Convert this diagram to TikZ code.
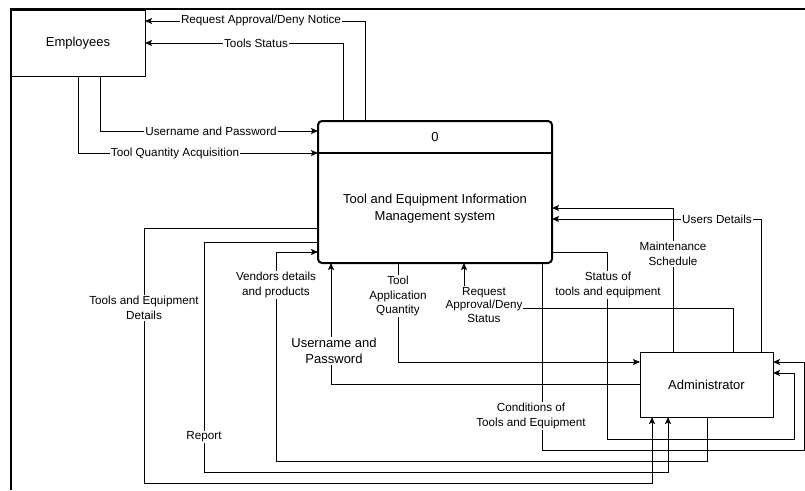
\documentclass[tikz,border=0pt]{standalone}
\usepackage{fontspec}
\setmainfont{Liberation Sans}
\usetikzlibrary{arrows.meta}

\tikzset{
  entity/.style={draw, line width=1pt, inner sep=0pt, outer sep=0pt,
    minimum width=134pt, minimum height=66pt, font=\fontsize{13}{15}\selectfont},
  process/.style={draw, line width=2pt, rounded corners=4pt, inner sep=0pt, outer sep=0pt,
    minimum width=234pt, minimum height=142pt},
  title/.style={align=center, inner sep=0pt, font=\fontsize{13}{17}\selectfont},
  flow/.style={draw, line width=1pt, -{Stealth[length=7pt,width=6pt,inset=1.5pt]}},
  lbl/.style={fill=white, inner sep=1pt, align=center, font=\fontsize{11.7}{15}\selectfont},
}

\begin{document}
\begin{tikzpicture}[x=1pt, y=-1pt]

    \useasboundingbox (0,0) rectangle (805,490);

    %% Context diagram

    % Page frame
    \draw[line width=1.2pt] (805,9) -- (11,9) -- (11,490);

    % Employees
    \node[entity] (emp) at (78,43) {Employees};

    % Process 0
    \node[process] (proc) at (435,192) {};
    \draw[line width=1.5pt] (proc.west |- 0,153) -- (proc.east |- 0,153);
    \node[title] (procid) at (435,137) {0};
    \node[title] (procname) at (435,208.5) {Tool and Equipment Information\\Management system};

    % Administrator
    \node[entity, minimum width=133pt, minimum height=65pt] (adm) at (706.5,384.5) {Administrator};

    % Flows between process and employees
    \draw[flow] (proc.north -| 365,0) |- (emp.east |- 0,21);
    \node[lbl] (notice) at (261,20) {Request Approval/Deny Notice};
    \draw[flow] (proc.north -| 343,0) |- (emp.east |- 0,43);
    \node[lbl] (status) at (256,43) {Tools Status};
    \draw[flow] (emp.south -| 100,0) |- (proc.west |- 0,131);
    \node[lbl] (emplogin) at (211,131) {Username and Password};
    \draw[flow] (emp.south -| 78,0) |- (proc.west |- 0,153);
    \node[lbl] (acq) at (175,153) {Tool Quantity Acquisition};

    % Flows on the left, to and from administrator
    \draw[flow] (proc.west |- 0,228) -| (144,483) -| (adm.south -| 652,0);
    \node[lbl] (details) at (144,308) {Tools and Equipment\\Details};
    \draw[flow] (proc.west |- 0,242) -| (204,472) -| (adm.south -| 668,0);
    \node[lbl] (report) at (204,437) {Report};
    \draw[flow] (adm.south -| 707,0) |- (276,461) |- (proc.west |- 0,252);
    \node[lbl] (vendors) at (276,285) {Vendors details\\and products};
    \draw[flow] (adm.west |- 0,384) -| (proc.south -| 331,0);
    \node[lbl, font=\fontsize{13}{16}\selectfont] (admlogin) at (334,351) {Username and\\Password};

    % Flows below the process
    \draw[flow] (proc.south -| 398,0) |- (adm.west |- 0,362);
    \node[lbl, font=\fontsize{11.7}{14.5}\selectfont] (appqty) at (398,296) {Tool\\Application\\Quantity};
    \draw[flow] (adm.north -| 733,0) |- (464,308) -- (proc.south -| 464,0);
    \node[lbl, font=\fontsize{11.7}{13.5}\selectfont] (reqstatus) at (484,305) {Request\\Approval/Deny\\Status};

    % Flows on the right
    \draw[flow] (adm.north -| 761,0) |- (proc.east |- 0,219);
    \node[lbl] (users) at (717,219) {Users Details};
    \draw[flow] (adm.north -| 673,0) |- (proc.east |- 0,208);
    \node[lbl] (maint) at (673,254) {Maintenance\\Schedule};
    \draw[flow] (proc.east |- 0,252) -| (607,439) -| (794,373) -- (adm.east |- 0,373);
    \node[lbl] (toolstate) at (608,285) {Status of\\tools and equipment};
    \draw[flow] (proc.south -| 542,0) |- (804,450) |- (adm.east |- 0,362);
    \node[lbl] (conditions) at (531,416) {Conditions of\\Tools and Equipment};

\end{tikzpicture}
\end{document}
